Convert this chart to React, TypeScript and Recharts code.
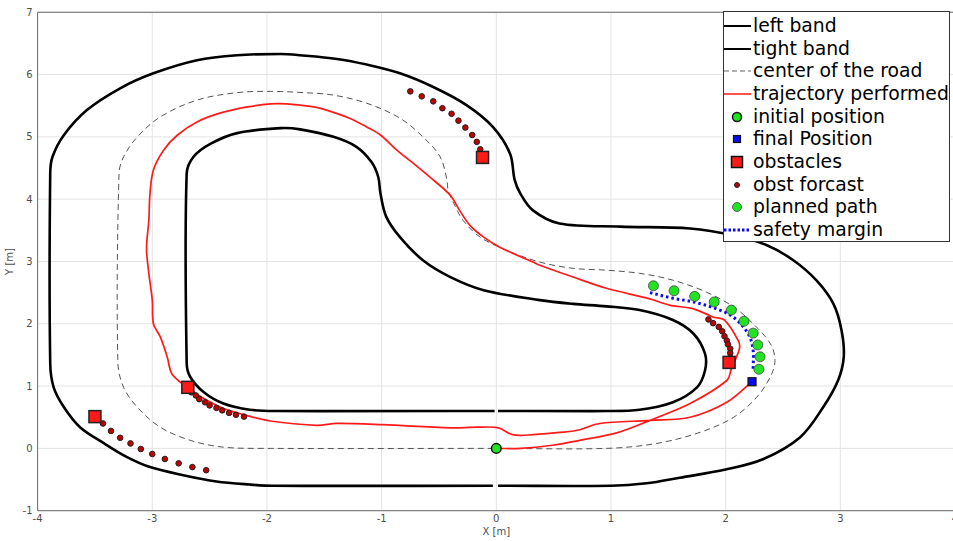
import React from "react";
import {
  ComposedChart,
  Line,
  Scatter,
  XAxis,
  YAxis,
  CartesianGrid,
  Legend,
} from "recharts";

type Pt = { x: number; y: number };
const pts = (a: number[][]): Pt[] => a.map(([x, y]) => ({ x, y }));

// axis ticks
const X_TICKS = [-4, -3, -2, -1, 0, 1, 2, 3, 4];
const Y_TICKS = [-1, 0, 1, 2, 3, 4, 5, 6, 7];

// road outlines
const LEFT_BAND = pts([
  [0.015, -0.6], [1.0, -0.6], [1.31, -0.56], [1.6, -0.47], [2.0, -0.34],
  [2.33, -0.17], [2.65, 0.18], [2.85, 0.66], [2.98, 1.09], [3.03, 1.47],
  [3.01, 1.9], [2.94, 2.32], [2.79, 2.7], [2.59, 3.02], [2.36, 3.26],
  [2.07, 3.42], [1.69, 3.53], [1.08, 3.56], [0.55, 3.61], [0.32, 3.82],
  [0.21, 4.09], [0.16, 4.31], [0.12, 4.73], [-0.03, 5.16], [-0.26, 5.51],
  [-0.55, 5.8], [-0.84, 6.02], [-1.13, 6.16], [-1.39, 6.25], [-1.71, 6.31],
  [-1.88, 6.33], [-2.26, 6.31], [-2.61, 6.23], [-2.99, 6.02], [-3.28, 5.78],
  [-3.57, 5.43], [-3.77, 5.03], [-3.87, 4.68], [-3.89, 4.41], [-3.89, 1.37],
  [-3.86, 0.98], [-3.77, 0.66], [-3.63, 0.34], [-3.42, 0.08], [-3.22, -0.14],
  [-3.02, -0.3], [-2.73, -0.43], [-2.44, -0.53], [-2.15, -0.58], [-1.95, -0.6],
  [-0.03, -0.6],
]);

const TIGHT_BAND = pts([
  [0.015, 0.6], [0.96, 0.6], [1.25, 0.62], [1.54, 0.74], [1.75, 0.98],
  [1.82, 1.25], [1.82, 1.52], [1.72, 1.84], [1.54, 2.06], [1.25, 2.22],
  [0.96, 2.28], [0.67, 2.32], [0.38, 2.38], [-0.11, 2.54], [-0.4, 2.75],
  [-0.64, 3.02], [-0.84, 3.39], [-0.96, 3.72], [-1.01, 4.09], [-1.03, 4.36],
  [-1.09, 4.6], [-1.22, 4.84], [-1.42, 5.0], [-1.71, 5.12], [-1.88, 5.14],
  [-2.26, 5.06], [-2.49, 4.89], [-2.64, 4.68], [-2.7, 4.41], [-2.7, 1.37],
  [-2.67, 1.15], [-2.55, 0.9], [-2.38, 0.72], [-2.15, 0.62], [-1.92, 0.6],
  [-0.015, 0.6],
]);

const CENTER_ROAD = pts([
  [0, 0], [0.96, 0], [1.4, 0.08], [1.78, 0.26], [2.07, 0.5], [2.27, 0.82],
  [2.39, 1.15], [2.43, 1.41], [2.39, 1.68], [2.24, 2.0], [2.07, 2.27],
  [1.83, 2.51], [1.54, 2.7], [1.25, 2.81], [0.96, 2.86], [0.67, 2.89],
  [0.38, 2.99], [0.09, 3.18], [-0.14, 3.39], [-0.29, 3.66], [-0.37, 3.93],
  [-0.42, 4.14], [-0.43, 4.31], [-0.49, 4.68], [-0.64, 5.0], [-0.84, 5.3],
  [-1.13, 5.54], [-1.42, 5.67], [-1.68, 5.71], [-1.97, 5.73], [-2.26, 5.71],
  [-2.61, 5.59], [-2.93, 5.32], [-3.13, 5.0], [-3.25, 4.68], [-3.29, 4.41],
  [-3.3, 1.37], [-3.25, 0.98], [-3.13, 0.66], [-2.93, 0.34], [-2.67, 0.13],
  [-2.38, 0.02], [-1.97, 0], [0, 0],
]);

const TRAJECTORY = pts([
  [0, 0], [0.21, 0], [0.49, 0.05], [0.73, 0.13], [1.05, 0.25], [1.34, 0.45],
  [1.69, 0.72], [2.01, 1.09], [2.05, 1.28], [2.12, 1.6], [2.11, 1.73],
  [1.99, 2.06], [1.89, 2.11], [1.72, 2.24], [1.51, 2.3], [1.34, 2.4],
  [0.96, 2.57], [0.67, 2.75], [0.38, 2.94], [0.32, 2.99], [0.03, 3.23],
  [-0.11, 3.39], [-0.23, 3.58], [-0.32, 3.82], [-0.4, 4.06], [-0.55, 4.31],
  [-0.72, 4.57], [-0.87, 4.79], [-1.01, 5.03], [-1.13, 5.16], [-1.28, 5.3],
  [-1.48, 5.43], [-1.59, 5.48], [-1.83, 5.53], [-1.97, 5.53], [-2.17, 5.48],
  [-2.41, 5.38], [-2.61, 5.24], [-2.78, 5.03], [-2.9, 4.79], [-2.99, 4.47],
  [-3.02, 4.09], [-3.03, 3.66], [-3.05, 3.21], [-3.03, 2.81], [-3.0, 2.38],
  [-2.99, 2.0], [-2.93, 1.79], [-2.87, 1.47], [-2.83, 1.2], [-2.74, 1.04],
  [-2.68, 0.96], [-2.55, 0.8], [-2.38, 0.64], [-2.12, 0.5], [-1.97, 0.44],
  [-1.57, 0.37], [-1.39, 0.4], [-0.99, 0.38], [-0.4, 0.33], [-0.17, 0.34],
  [0.02, 0.33], [0.14, 0.22], [0.32, 0.22], [0.58, 0.26], [0.73, 0.3],
  [0.9, 0.4], [1.34, 0.45], [1.69, 0.5], [2.01, 0.74], [2.23, 1.07],
]);

const SAFETY_MARGIN = pts([
  [1.34, 2.5], [1.54, 2.41], [1.72, 2.35], [1.89, 2.26], [2.04, 2.14],
  [2.14, 1.98], [2.21, 1.79], [2.24, 1.57], [2.24, 1.28],
]);

const PLANNED_PATH = pts([
  [1.37, 2.61], [1.55, 2.53], [1.73, 2.44], [1.9, 2.35], [2.05, 2.22],
  [2.16, 2.04], [2.24, 1.85], [2.28, 1.66], [2.3, 1.47], [2.29, 1.27],
]);

const OBSTACLES = pts([[-0.12, 4.67], [2.03, 1.38], [-2.69, 0.98], [-3.5, 0.51]]);

const OBST_FORECAST = pts([
  [-0.75, 5.73], [-0.65, 5.65], [-0.55, 5.57], [-0.47, 5.46], [-0.39, 5.37],
  [-0.33, 5.26], [-0.27, 5.15], [-0.21, 5.03], [-0.17, 4.92], [-0.14, 4.8],
  [1.85, 2.07], [1.89, 2.01], [1.94, 1.95], [1.97, 1.88], [1.99, 1.8],
  [2.01, 1.73], [2.02, 1.67], [2.04, 1.6], [2.04, 1.53], [2.04, 1.46],
  [-2.66, 0.9], [-2.62, 0.85], [-2.59, 0.79], [-2.54, 0.74], [-2.5, 0.69],
  [-2.44, 0.65], [-2.39, 0.61], [-2.33, 0.57], [-2.27, 0.54], [-2.2, 0.51],
  [-3.43, 0.4], [-3.36, 0.28], [-3.28, 0.17], [-3.19, 0.08], [-3.1, -0.01],
  [-3.0, -0.09], [-2.89, -0.17], [-2.77, -0.24], [-2.65, -0.3], [-2.53, -0.35],
]);

const INITIAL_POS = pts([[0, 0]]);
const FINAL_POS = pts([[2.23, 1.07]]);

const LEGEND_LABELS = [
  "left band",
  "tight band",
  "center of the road",
  "trajectory performed",
  "initial position",
  "final Position",
  "obstacles",
  "obst forcast",
  "planned path",
  "safety margin",
];

const GREEN = "#22e322";
const RED = "#ff1a1a";
const BLUE = "#0a0aee";
const AXIS_GRAY = "#6b6b6b";

// smooth curve through the read points (tangent scaled per segment, no overshoot)
function smoothCurve(context: any) {
  let p: [number, number][] = [];
  return {
    areaStart() {},
    areaEnd() {},
    lineStart() {
      p = [];
    },
    point(x: number, y: number) {
      p.push([+x, +y]);
    },
    lineEnd() {
      const n = p.length;
      if (!n) return;
      context.moveTo(p[0][0], p[0][1]);
      if (n < 3) {
        for (let i = 1; i < n; i++) context.lineTo(p[i][0], p[i][1]);
        return;
      }
      const tang = p.map((_, i) => {
        const a = p[Math.max(0, i - 1)];
        const b = p[Math.min(n - 1, i + 1)];
        const dx = b[0] - a[0];
        const dy = b[1] - a[1];
        const l = Math.hypot(dx, dy) || 1;
        return [dx / l, dy / l];
      });
      for (let i = 0; i < n - 1; i++) {
        const a = p[i];
        const b = p[i + 1];
        const L = Math.hypot(b[0] - a[0], b[1] - a[1]) / 3;
        context.bezierCurveTo(
          a[0] + tang[i][0] * L,
          a[1] + tang[i][1] * L,
          b[0] - tang[i + 1][0] * L,
          b[1] - tang[i + 1][1] * L,
          b[0],
          b[1]
        );
      }
    },
  };
}

const circle = (r: number, fill: string, stroke: string, sw: number) => (p: any) =>
  <circle cx={p.cx} cy={p.cy} r={r} fill={fill} stroke={stroke} strokeWidth={sw} />;
const square = (s: number, fill: string, stroke: string, sw: number) => (p: any) =>
  <rect x={p.cx - s / 2} y={p.cy - s / 2} width={s} height={s} fill={fill} stroke={stroke} strokeWidth={sw} />;

function LegendSample({ i }: { i: number }) {
  const cx = 13, cy = 11;
  let el: React.ReactNode = null;
  if (i === 0 || i === 1) el = <line x1={0} x2={27} y1={cy} y2={cy} stroke="#000" strokeWidth={2} />;
  if (i === 2) el = <line x1={0} x2={27} y1={cy} y2={cy} stroke="#666" strokeWidth={1} strokeDasharray="5 3" />;
  if (i === 3) el = <line x1={0} x2={27} y1={cy} y2={cy} stroke={RED} strokeWidth={1.5} />;
  if (i === 4) el = <circle cx={cx} cy={cy} r={4.5} fill={GREEN} stroke="#111" strokeWidth={1.5} />;
  if (i === 5) el = <rect x={cx - 3.5} y={cy - 3.5} width={7} height={7} fill={BLUE} stroke="#111" strokeWidth={1.2} />;
  if (i === 6) el = <rect x={cx - 5.5} y={cy - 5.5} width={11} height={11} fill={RED} stroke="#111" strokeWidth={1.5} />;
  if (i === 7) el = <circle cx={cx} cy={cy} r={2.5} fill="#c00000" stroke="#222" strokeWidth={1} />;
  if (i === 8) el = <circle cx={cx} cy={cy} r={4.5} fill={GREEN} stroke="#444" strokeWidth={0.8} />;
  if (i === 9) el = <line x1={0} x2={27} y1={cy} y2={cy} stroke={BLUE} strokeWidth={3} strokeDasharray="2.5 2" />;
  return <svg width={28} height={22} style={{ display: "block", flex: "none" }}>{el}</svg>;
}

function LegendBox() {
  return (
    <div
      style={{
        width: 227,
        height: 231,
        background: "#fff",
        border: "1px solid #333",
        boxSizing: "border-box",
        paddingTop: 2.5,
        fontFamily: "DejaVu Sans, sans-serif",
        fontSize: 18.8,
        color: "#000",
      }}
    >
      {LEGEND_LABELS.map((t, i) => (
        <div key={t} style={{ display: "flex", alignItems: "center", height: 22.7, whiteSpace: "nowrap" }}>
          <LegendSample i={i} />
          <span style={{ lineHeight: "22px", marginLeft: 1 }}>{t}</span>
        </div>
      ))}
    </div>
  );
}

export default function App() {
  const tickStyle = { fontSize: 10, fill: "#4d4d4d", fontFamily: "DejaVu Sans, sans-serif" };
  const ax = { xAxisId: "x", yAxisId: "y" };

  return (
    <div style={{ position: "fixed", left: 0, top: 0, width: 953, height: 541, overflow: "hidden", background: "#fff" }}>
      <ComposedChart width={960} height={541} margin={{ top: 12.25, right: 5, bottom: 0.3, left: 7.6 }}>
        <CartesianGrid xAxisId="x" yAxisId="y" stroke="#e3e3e3" strokeWidth={1} />
        <XAxis
          xAxisId="x"
          dataKey="x"
          type="number"
          domain={[-4, 4]}
          ticks={X_TICKS}
          allowDataOverflow
          height={30}
          tickSize={0}
          tickMargin={4}
          tickLine={false}
          axisLine={{ stroke: AXIS_GRAY }}
          tick={tickStyle}
          label={{
            content: (p: any) => (
              <text x={p.viewBox.x + p.viewBox.width / 2} y={p.viewBox.y + 24} textAnchor="middle" fontSize={10} fill="#4d4d4d" fontFamily="DejaVu Sans, sans-serif">
                X [m]
              </text>
            ),
          }}
        />
        <XAxis xAxisId="xm" type="number" domain={[-4, 4]} ticks={X_TICKS} allowDataOverflow mirror tick={false} axisLine={false} tickSize={8} tickLine={{ stroke: AXIS_GRAY }} />
        <XAxis xAxisId="xt" orientation="top" type="number" domain={[-4, 4]} ticks={X_TICKS} allowDataOverflow mirror tick={false} axisLine={{ stroke: AXIS_GRAY }} tickSize={8} tickLine={{ stroke: AXIS_GRAY }} />
        <YAxis
          yAxisId="y"
          dataKey="y"
          type="number"
          domain={[-1, 7]}
          ticks={Y_TICKS}
          allowDataOverflow
          width={30}
          tickSize={0}
          tickMargin={5}
          tickLine={false}
          axisLine={{ stroke: AXIS_GRAY }}
          tick={tickStyle}
          label={{
            content: (p: any) => {
              const cx = 13;
              const cy = p.viewBox.y + p.viewBox.height / 2;
              return (
                <text x={cx} y={cy} transform={`rotate(-90 ${cx} ${cy})`} textAnchor="middle" fontSize={10} fill="#4d4d4d" fontFamily="DejaVu Sans, sans-serif">
                  Y [m]
                </text>
              );
            },
          }}
        />
        <YAxis yAxisId="ym" type="number" domain={[-1, 7]} ticks={Y_TICKS} allowDataOverflow mirror tick={false} axisLine={false} tickSize={8} tickLine={{ stroke: AXIS_GRAY }} />
        <YAxis yAxisId="yr" orientation="right" type="number" domain={[-1, 7]} ticks={Y_TICKS} allowDataOverflow mirror tick={false} axisLine={{ stroke: AXIS_GRAY }} tickSize={8} tickLine={{ stroke: AXIS_GRAY }} />

        <Line {...ax} data={LEFT_BAND} dataKey="y" type={smoothCurve as any} stroke="#000" strokeWidth={2.6} dot={false} isAnimationActive={false} />
        <Line {...ax} data={TIGHT_BAND} dataKey="y" type={smoothCurve as any} stroke="#000" strokeWidth={2.6} dot={false} isAnimationActive={false} />
        <Line {...ax} data={CENTER_ROAD} dataKey="y" type={smoothCurve as any} stroke="#555" strokeWidth={1} strokeDasharray="6 4" dot={false} isAnimationActive={false} />
        <Line {...ax} data={TRAJECTORY} dataKey="y" type={smoothCurve as any} stroke={RED} strokeWidth={1.7} dot={false} isAnimationActive={false} />
        <Line {...ax} data={SAFETY_MARGIN} dataKey="y" type={smoothCurve as any} stroke={BLUE} strokeWidth={3} strokeDasharray="2.5 3" dot={false} isAnimationActive={false} />

        <Scatter {...ax} data={OBST_FORECAST} shape={circle(2.8, "#c00000", "#222", 1)} isAnimationActive={false} />
        <Scatter {...ax} data={OBSTACLES} shape={square(12, RED, "#222", 1.5)} isAnimationActive={false} />
        <Scatter {...ax} data={PLANNED_PATH} shape={circle(5, GREEN, "#444", 0.8)} isAnimationActive={false} />
        <Scatter {...ax} data={INITIAL_POS} shape={circle(4.8, GREEN, "#111", 1.5)} isAnimationActive={false} />
        <Scatter {...ax} data={FINAL_POS} shape={square(8, BLUE, "#111", 1.2)} isAnimationActive={false} />

        <Legend
          layout="horizontal"
          verticalAlign="middle"
          align="center"
          wrapperStyle={{ left: 723, top: 11, width: 227 }}
          content={() => <LegendBox />}
        />
      </ComposedChart>
    </div>
  );
}
